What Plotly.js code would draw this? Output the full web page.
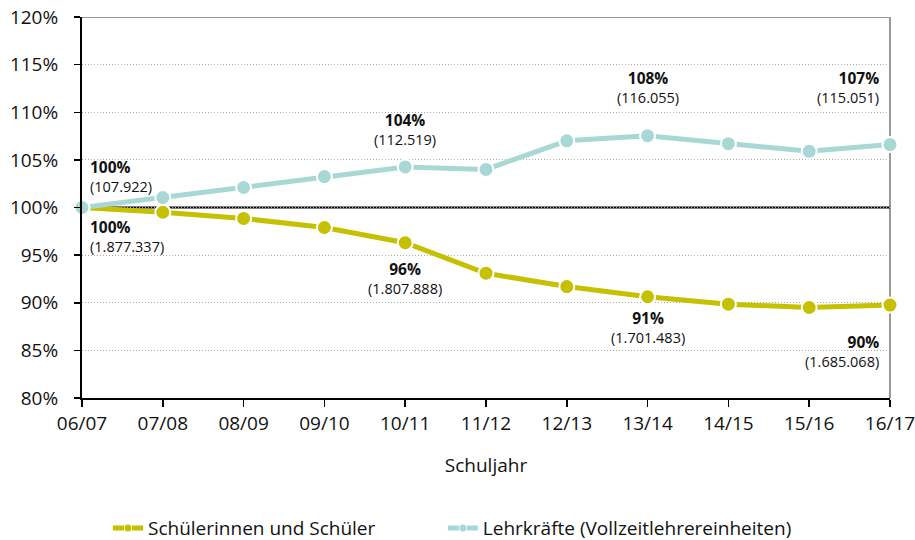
<!DOCTYPE html>
<html>
<head>
<meta charset="utf-8">
<script src="https://cdn.plot.ly/plotly-3.0.1.min.js"></script>
<style>html,body{margin:0;padding:0;background:#fff;}#chart{width:915px;height:540px;}</style>
</head>
<body>
<div id="chart"></div>
<script>
const years = ["06/07","07/08","08/09","09/10","10/11","11/12","12/13","13/14","14/15","15/16","16/17"];
const studentsPct = [100, 99.5, 98.85, 97.9, 96.3, 93.1, 91.7, 90.63, 89.85, 89.5, 89.76];
const teachersPct = [100, 101.05, 102.1, 103.25, 104.26, 104.0, 107.0, 107.54, 106.7, 105.9, 106.61];
const studentsName = "Schülerinnen und Schüler";
const teachersName = "Lehrkräfte (Vollzeitlehrereinheiten)";
const yTicks = [80, 85, 90, 95, 100, 105, 110, 115, 120];
const yTickLabels = ["80%","85%","90%","95%","100%","105%","110%","115%","120%"];

// labelled points: [index, percent text, absolute text]
const teacherLabels = [[0,"100%","(107.922)"],[4,"104%","(112.519)"],[7,"108%","(116.055)"],[10,"107%","(115.051)"]];
const studentLabels = [[0,"100%","(1.877.337)"],[4,"96%","(1.807.888)"],[7,"91%","(1.701.483)"],[10,"90%","(1.685.068)"]];
// vertical label offsets in px (style only)
const teacherShift = [10, 16, 27, 36];
const studentShift = [-6, -13, -8, -24];

const FONT = "Open Sans, sans-serif";
const cStud = "#c5c000";
const cTeach = "#a8d8d6";

function trace(name, y, color) {
  return {
    type: "scatter", mode: "lines+markers", name: name, showlegend: false,
    x: years, y: y,
    line: {color: color, width: 5},
    marker: {color: color, size: 15, line: {color: "#fff", width: 2}},
    cliponaxis: false, hoverinfo: "skip"
  };
}
function legendTrace(name, color, legendId) {
  return {
    type: "scatter", mode: "lines+markers", name: name, showlegend: true, legend: legendId,
    x: [null], y: [null],
    line: {color: color, width: 5, dash: "11px,8px"},
    marker: {color: color, size: 7},
    hoverinfo: "skip"
  };
}

const annotations = [];
function addLabels(list, above, shifts) {
  list.forEach(([i, pct, abs], k) => {
    const last = i === years.length - 1;
    const first = i === 0;
    annotations.push({
      x: years[i], y: (above ? teachersPct : studentsPct)[i], xref: "x", yref: "y",
      text: "<b><span style='font-size:15.5px'>" + pct + "</span></b><br>" + abs,
      showarrow: false,
      xanchor: first ? "left" : (last ? "right" : "center"),
      yanchor: above ? "bottom" : "top",
      xshift: first ? 6 : (last ? -9 : 0), yshift: shifts[k],
      align: first ? "left" : (last ? "right" : "center"),
      font: {family: FONT, size: 14.5, color: "#111"}
    });
  });
}
addLabels(teacherLabels, true, teacherShift);
addLabels(studentLabels, false, studentShift);

function legendBox(x) {
  return {orientation: "h", x: x, xanchor: "left", xref: "container",
          y: 0.022, yanchor: "middle", yref: "container",
          font: {family: FONT, size: 19, color: "#111"}, bgcolor: "rgba(0,0,0,0)"};
}

const layout = {
  width: 915, height: 540,
  margin: {l: 82, r: 25, t: 17, b: 142},
  paper_bgcolor: "#fff", plot_bgcolor: "#fff",
  font: {family: FONT, size: 19, color: "#111"},
  showlegend: true,
  legend: legendBox(0.118),
  legend2: legendBox(0.484),
  xaxis: {
    type: "category", range: [0, years.length - 1], automargin: false,
    showgrid: false, zeroline: false,
    showline: true, linecolor: "#000", linewidth: 2,
    ticks: "outside", ticklen: 7, tickcolor: "#000", tickwidth: 1.5,
    tickfont: {family: FONT, size: 19, color: "#111"},
    title: {text: "Schuljahr", font: {family: FONT, size: 19, color: "#111"}, standoff: 24}
  },
  yaxis: {
    range: [80, 120], tickvals: yTicks, ticktext: yTickLabels, automargin: false,
    showgrid: true, gridcolor: "#aaaaaa", griddash: "1px,2px", gridwidth: 1,
    zeroline: false,
    showline: true, linecolor: "#000", linewidth: 2,
    ticks: "outside", ticklen: 6, tickcolor: "#000", tickwidth: 1.5,
    ticklabelstandoff: 12,
    tickfont: {family: FONT, size: 19, color: "#111"}
  },
  shapes: [
    {type: "line", xref: "paper", yref: "y", x0: 0, x1: 1, y0: 120, y1: 120, line: {color: "#999", width: 2}, layer: "between"},
    {type: "line", xref: "paper", yref: "paper", x0: 1, x1: 1, y0: 0, y1: 1, line: {color: "#999", width: 2}, layer: "between"},
    {type: "line", xref: "paper", yref: "y", x0: 0, x1: 1, y0: 100, y1: 100, line: {color: "#000", width: 2}, layer: "between"}
  ],
  annotations: annotations
};

Plotly.newPlot("chart", [
  trace(studentsName, studentsPct, cStud),
  trace(teachersName, teachersPct, cTeach),
  legendTrace(studentsName, cStud, "legend"),
  legendTrace(teachersName, cTeach, "legend2")
], layout, {displayModeBar: false, staticPlot: true});
</script>
</body>
</html>
